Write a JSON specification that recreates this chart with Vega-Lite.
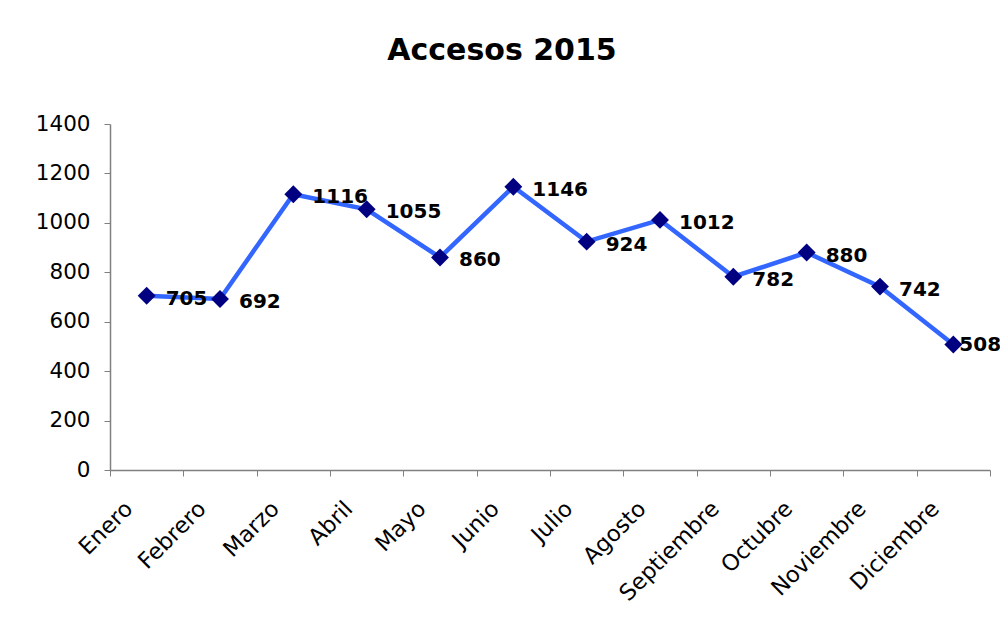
{
  "$schema": "https://vega.github.io/schema/vega-lite/v6.json",
  "width": 880,
  "height": 346,
  "autosize": "none",
  "padding": {"left": 110, "top": 124, "right": 10, "bottom": 153},
  "background": "white",
  "title": {
    "text": "Accesos 2015",
    "font": "DejaVu Sans",
    "fontSize": 30,
    "fontWeight": "bold",
    "color": "black",
    "anchor": "middle",
    "dx": -48,
    "offset": 47
  },
  "data": {
    "values": [
      {"mes": "Enero", "accesos": 705},
      {"mes": "Febrero", "accesos": 692},
      {"mes": "Marzo", "accesos": 1116},
      {"mes": "Abril", "accesos": 1055},
      {"mes": "Mayo", "accesos": 860},
      {"mes": "Junio", "accesos": 1146},
      {"mes": "Julio", "accesos": 924},
      {"mes": "Agosto", "accesos": 1012},
      {"mes": "Septiembre", "accesos": 782},
      {"mes": "Octubre", "accesos": 880},
      {"mes": "Noviembre", "accesos": 742},
      {"mes": "Diciembre", "accesos": 508}
    ]
  },
  "encoding": {
    "x": {
      "field": "mes",
      "type": "nominal",
      "sort": null,
      "scale": {"type": "band", "paddingInner": 0, "paddingOuter": 0},
      "axis": {
        "title": null,
        "labelAngle": -45,
        "labelFont": "DejaVu Sans",
        "labelFontSize": 22.5,
        "labelColor": "black",
        "labelPadding": 21,
        "labelOffset": -26,
        "tickBand": "extent",
        "tickSize": 6,
        "tickColor": "#808080",
        "domainColor": "#808080",
        "domainWidth": 1.5,
        "grid": false
      }
    },
    "y": {
      "field": "accesos",
      "type": "quantitative",
      "scale": {"domain": [0, 1400], "nice": false},
      "axis": {
        "title": null,
        "format": "d",
        "values": [0, 200, 400, 600, 800, 1000, 1200, 1400],
        "labelFont": "DejaVu Sans",
        "labelFontSize": 21.5,
        "labelColor": "black",
        "labelPadding": 14,
        "tickSize": 6,
        "tickColor": "#808080",
        "domainColor": "#808080",
        "domainWidth": 1.5,
        "grid": false
      }
    }
  },
  "layer": [
    {
      "mark": {"type": "line", "color": "#3366FF", "strokeWidth": 4.5}
    },
    {
      "mark": {"type": "point", "shape": "diamond", "filled": true, "color": "#000080", "size": 320, "opacity": 1}
    },
    {
      "transform": [{"filter": "datum.mes !== 'Diciembre'"}],
      "mark": {"type": "text", "align": "left", "baseline": "middle", "dx": 19, "dy": 3, "font": "DejaVu Sans", "fontSize": 20, "fontWeight": "bold", "color": "black"},
      "encoding": {"text": {"field": "accesos", "type": "quantitative"}}
    },
    {
      "transform": [{"filter": "datum.mes === 'Diciembre'"}],
      "mark": {"type": "text", "align": "left", "baseline": "middle", "dx": 6, "dy": 1, "font": "DejaVu Sans", "fontSize": 20, "fontWeight": "bold", "color": "black"},
      "encoding": {"text": {"field": "accesos", "type": "quantitative"}}
    }
  ],
  "config": {"view": {"stroke": null}}
}
